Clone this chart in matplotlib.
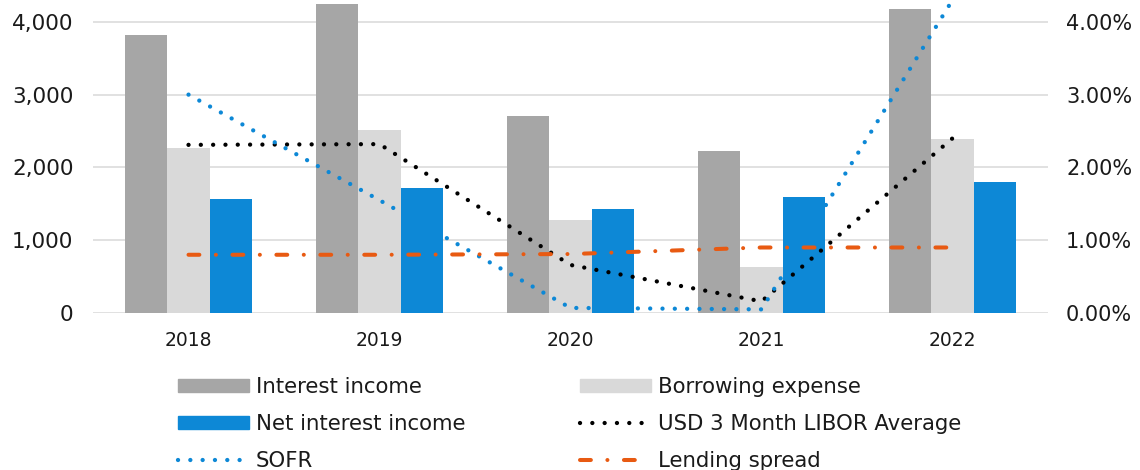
import matplotlib
matplotlib.use('Agg')
import matplotlib.pyplot as plt
from matplotlib.lines import Line2D
from matplotlib.patches import Patch
from matplotlib.ticker import FuncFormatter
import numpy as np

plt.rcParams['font.family'] = ['DejaVu Sans']

years = ['2018', '2019', '2020', '2021', '2022']
interest_income = [3820, 4240, 2700, 2225, 4175]
borrowing_expense = [2260, 2520, 1275, 630, 2385]
net_interest_income = [1560, 1720, 1430, 1600, 1800]
libor = [2.31, 2.32, 0.66, 0.16, 2.40]
sofr = [3.00, 1.55, 0.07, 0.05, 4.30]
lending_spread = [0.80, 0.80, 0.81, 0.90, 0.90]

c_income = '#A6A6A6'
c_borrow = '#D9D9D9'
c_net = '#0D88D6'
c_libor = '#000000'
c_sofr = '#0D88D6'
c_spread = '#E85A12'
txt = '#1a1a1a'

W, H = 1140, 470
fig = plt.figure(figsize=(W / 100, H / 100), dpi=100)
ax = fig.add_axes([93 / W, 157 / H, 955 / W, 313 / H])

x = np.arange(len(years))
w = 0.223
ax.bar(x - w, interest_income, w, color=c_income, zorder=2)
ax.bar(x, borrowing_expense, w, color=c_borrow, zorder=2)
ax.bar(x + w, net_interest_income, w, color=c_net, zorder=2)

ax.set_xlim(-0.5, 4.5)
ax.set_ylim(0, 4300)
ax.set_yticks([0, 1000, 2000, 3000, 4000])
ax.yaxis.set_major_formatter(FuncFormatter(lambda v, p: f'{v:,.0f}'))
ax.set_xticks(x)
ax.set_xticklabels(years)
ax.grid(axis='y', color='#D9D9D9', lw=1.1)
ax.set_axisbelow(True)
for s in ax.spines.values():
    s.set_visible(False)
ax.tick_params(axis='y', length=0, labelsize=15.5, colors=txt, pad=14)
ax.tick_params(axis='x', length=0, labelsize=13.5, colors=txt, pad=13)

ax2 = ax.twinx()
ax2.set_ylim(0, 4.3)
ax2.set_yticks([0, 1, 2, 3, 4])
ax2.yaxis.set_major_formatter(FuncFormatter(lambda v, p: f'{v:.2f}%'))
for s in ax2.spines.values():
    s.set_visible(False)
ax2.tick_params(axis='y', length=0, labelsize=15, colors=txt, pad=13)

dot = (0, (0.01, 2.85))
dashdot = (0, (2.7, 4.1, 0.01, 4.1))
ax2.plot(x, libor, color=c_libor, lw=3.1, linestyle=dot,
         dash_capstyle='round', zorder=3)
ax2.plot(x, sofr, color=c_sofr, lw=3.1, linestyle=dot,
         dash_capstyle='round', zorder=3)
ax2.plot(x, lending_spread, color=c_spread, lw=2.9,
         linestyle=dashdot, dash_capstyle='round', zorder=3)

# legend, two columns placed separately
h_income = Patch(color=c_income)
h_borrow = Patch(color=c_borrow)
h_net = Patch(color=c_net)
h_libor = Line2D([], [], color=c_libor, lw=3.1, linestyle=dot, dash_capstyle='round')
h_sofr = Line2D([], [], color=c_sofr, lw=3.1, linestyle=dot, dash_capstyle='round')
h_spread = Line2D([], [], color=c_spread, lw=2.9, linestyle=dashdot, dash_capstyle='round')

kw = dict(frameon=False, fontsize=15.3, handlelength=3.35, handleheight=0.6,
          handletextpad=0.32, labelspacing=0.8, borderpad=0, borderaxespad=0,
          loc='center left', labelcolor=txt)
leg1 = fig.legend([h_income, h_net, h_sofr],
                  ['Interest income', 'Net interest income', 'SOFR'],
                  bbox_to_anchor=(178 / W, 46 / H), **kw)
leg2 = fig.legend([h_borrow, h_libor, h_spread],
                  ['Borrowing expense', 'USD 3 Month LIBOR Average', 'Lending spread'],
                  bbox_to_anchor=(580 / W, 46 / H), **kw)

fig.savefig('out.png', dpi=100)
